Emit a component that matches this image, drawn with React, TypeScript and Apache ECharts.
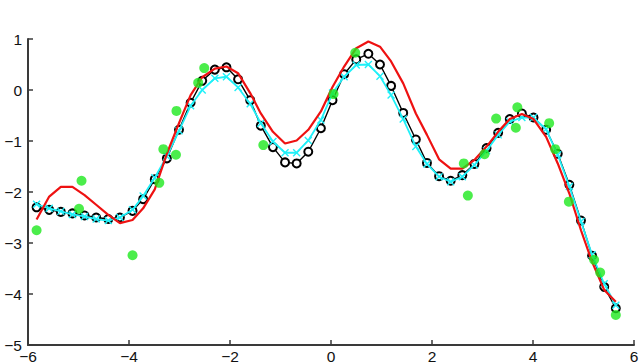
import React, { useEffect, useRef } from "react";
import * as echarts from "echarts";

const xGrid = [
  -5.83, -5.58, -5.35, -5.12, -4.88, -4.65, -4.41, -4.18, -3.93, -3.72,
  -3.49, -3.25, -3.01, -2.78, -2.55, -2.30, -2.07, -1.84, -1.60, -1.39,
  -1.15, -0.91, -0.68, -0.45, -0.20, 0.03, 0.26, 0.50, 0.74, 0.97,
  1.19, 1.43, 1.68, 1.90, 2.14, 2.37, 2.60, 2.84, 3.08, 3.31,
  3.54, 3.78, 4.01, 4.26, 4.49, 4.72, 4.95, 5.17, 5.41, 5.64,
];

const blackValues = [
  -2.30, -2.35, -2.39, -2.42, -2.46, -2.50, -2.53, -2.50, -2.37, -2.14,
  -1.75, -1.34, -0.78, -0.25, 0.18, 0.40, 0.445, 0.21, -0.20, -0.70,
  -1.12, -1.42, -1.44, -1.21, -0.75, -0.20, 0.31, 0.60, 0.71, 0.50,
  0.08, -0.45, -0.97, -1.43, -1.69, -1.78, -1.67, -1.45, -1.14, -0.84,
  -0.57, -0.46, -0.54, -0.78, -1.25, -1.86, -2.56, -3.25, -3.86, -4.28,
];

const cyanValues = [
  -2.24, -2.32, -2.38, -2.44, -2.48, -2.53, -2.56, -2.50, -2.35, -2.08,
  -1.72, -1.30, -0.80, -0.31, 0.00, 0.23, 0.26, 0.05, -0.27, -0.65,
  -1.01, -1.23, -1.23, -0.99, -0.59, -0.06, 0.26, 0.49, 0.50, 0.27,
  -0.10, -0.57, -1.11, -1.45, -1.70, -1.80, -1.70, -1.47, -1.19, -0.88,
  -0.62, -0.54, -0.54, -0.77, -1.27, -1.89, -2.58, -3.23, -3.80, -4.22,
];

const redValues = [
  -2.54, -2.09, -1.90, -1.90, -2.06, -2.25, -2.45, -2.61, -2.55, -2.32,
  -1.95, -1.25, -0.65, -0.10, 0.25, 0.42, 0.46, 0.33, -0.06, -0.46,
  -0.82, -1.05, -0.99, -0.78, -0.42, 0.06, 0.46, 0.82, 0.95, 0.85,
  0.56, 0.13, -0.46, -0.88, -1.36, -1.54, -1.54, -1.37, -1.11, -0.82,
  -0.57, -0.47, -0.57, -0.92, -1.44, -2.03, -2.75, -3.37, -3.92, -4.15,
];

const greenX = [
  -5.83, -4.94, -4.99, -3.93, -3.40, -3.32, -3.07, -3.06, -2.63, -2.51,
  -1.34, 0.05, 0.48, 2.63, 2.71, 3.04, 3.27, 3.69, 3.66, 4.32,
  4.44, 4.71, 5.21, 5.33, 5.64,
];
const greenY = [
  -2.75, -1.78, -2.33, -3.24, -1.82, -1.16, -1.27, -0.41, 0.14, 0.43,
  -1.08, -0.08, 0.73, -1.44, -2.07, -1.26, -0.56, -0.34, -0.74, -0.65,
  -1.16, -2.19, -3.33, -3.58, -4.41,
];

const xTicks = { min: -6, max: 6, interval: 2 };
const yTicks = { min: -5, max: 1, interval: 1 };

const pair = (xs: number[], ys: number[]) => xs.map((x, i) => [x, ys[i]]);
const fmt = (v: number) => (v < 0 ? "\u2212" + Math.abs(v) : String(v));

export default function App() {
  const ref = useRef<HTMLDivElement>(null);
  useEffect(() => {
    if (!ref.current) return;
    const chart = echarts.init(ref.current, undefined, { renderer: "svg" });
    const axisColor = "#3a3a3a";
    const labelStyle = {
      color: "#111",
      fontSize: 15.5,
      fontFamily: "Liberation Sans, Arial, sans-serif",
    };
    chart.setOption({
      animation: false,
      backgroundColor: "#ffffff",
      grid: {
        left: 28,
        right: 6,
        top: 39,
        bottom: 17,
        containLabel: false,
        outerBoundsMode: "none",
      },
      xAxis: {
        type: "value",
        ...xTicks,
        axisLine: { show: true, onZero: false, lineStyle: { color: axisColor, width: 2 } },
        axisTick: { show: true, inside: true, length: 5, lineStyle: { color: axisColor, width: 1.5 } },
        axisLabel: { ...labelStyle, margin: 3, formatter: fmt, showMinLabel: true, showMaxLabel: true },
        splitLine: { show: false },
      },
      yAxis: {
        type: "value",
        ...yTicks,
        axisLine: { show: true, onZero: false, lineStyle: { color: axisColor, width: 2 } },
        axisTick: { show: true, inside: true, length: 5, lineStyle: { color: axisColor, width: 1.5 } },
        axisLabel: { ...labelStyle, margin: 6, formatter: fmt, showMinLabel: true, showMaxLabel: true },
        splitLine: { show: false },
      },
      series: [
        {
          type: "line",
          data: pair(xGrid, blackValues),
          symbol: "emptyCircle",
          symbolSize: 8,
          showAllSymbol: true,
          lineStyle: { color: "#000", width: 1.4 },
          itemStyle: { color: "#000", borderColor: "#000", borderWidth: 1.2 },
          z: 2,
        },
        {
          type: "line",
          data: pair(xGrid, cyanValues),
          symbol: "path://M0,0L10,10M10,0L0,10",
          symbolSize: 7,
          showAllSymbol: true,
          lineStyle: { color: "#1ff0f8", width: 1.8 },
          itemStyle: { color: "#1ff0f8", borderColor: "#1ff0f8", borderWidth: 1.4 },
          z: 3,
        },
        {
          type: "line",
          data: pair(xGrid, redValues),
          symbol: "none",
          lineStyle: { color: "#ee1111", width: 2.2 },
          itemStyle: { color: "#ee1111" },
          z: 4,
        },
        {
          type: "scatter",
          data: pair(greenX, greenY),
          symbol: "circle",
          symbolSize: 10,
          itemStyle: { color: "#1ee81e" },
          z: 5,
        },
      ],
    });
    return () => chart.dispose();
  }, []);
  return (
    <div
      ref={ref}
      style={{ position: "fixed", left: 0, top: 0, width: 640, height: 362, background: "#fff" }}
    />
  );
}
